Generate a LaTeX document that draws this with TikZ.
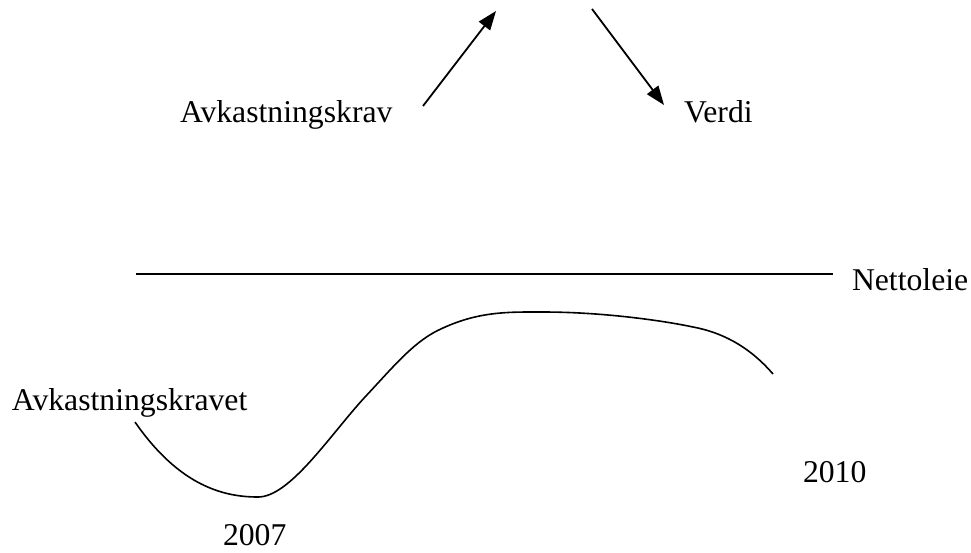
\documentclass[tikz,border=0pt]{standalone}
\usepackage{fontspec}
\setmainfont{Liberation Serif}
\usetikzlibrary{arrows.meta}
\begin{document}
\begin{tikzpicture}[x=1pt,y=-1pt,
  lbl/.style={anchor=base west,inner sep=0pt,outer sep=0pt,font=\fontsize{31.7}{36}\selectfont},
  arr/.style={line width=1.8pt,-{Triangle[length=19pt,width=14pt]}},
  ln/.style={line width=1.8pt}]
\useasboundingbox (0,0) rectangle (971,552);
\node[lbl] (avk) at (180,122) {Avkastningskrav};
\node[lbl] (verdi) at (684,122) {Verdi};
\node[lbl] (netto) at (852,290) {Nettoleie};
\node[lbl] (avkt) at (12,410) {Avkastningskravet};
\node[lbl] (y2010) at (803,482) {2010};
\node[lbl] (y2007) at (223,545) {2007};
\coordinate (a1s) at (423,106);
\coordinate (a1e) at (496,11);
\coordinate (a2s) at (592,9);
\coordinate (a2e) at (664,105);
\coordinate (ls) at (136,274);
\coordinate (le) at (833,274);
\draw[arr] (a1s) -- (a1e);
\draw[arr] (a2s) -- (a2e);
\draw[ln] (ls) -- (le);
\draw[line width=1.6pt] (135,422) .. controls (180,487) and (225,497) .. (258,497)
  .. controls (290,497) and (330,435) .. (365,397)
  .. controls (395,365) and (415,340) .. (443,328)
  .. controls (480,311) and (510,312) .. (543,312)
  .. controls (600,312) and (660,320) .. (693,327)
  .. controls (720,332) and (748,345) .. (773,374);
\end{tikzpicture}
\end{document}
